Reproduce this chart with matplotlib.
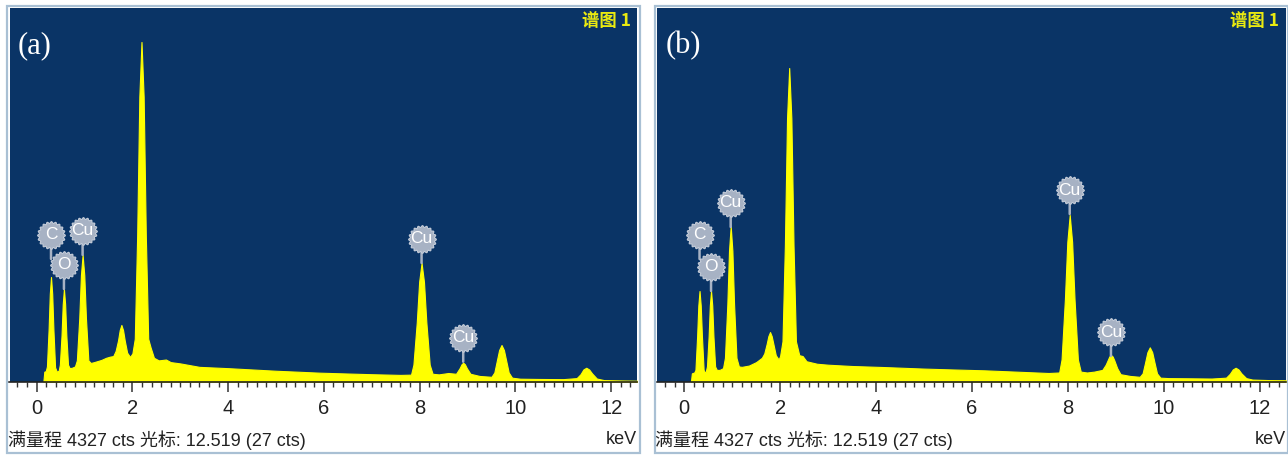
import numpy as np
import matplotlib
matplotlib.use('Agg')
import matplotlib.pyplot as plt
from matplotlib.path import Path
from matplotlib.patches import Rectangle
from matplotlib.transforms import offset_copy

# spectrum (a): energy in keV, counts
energy_a = [0.14, 0.16, 0.19, 0.215, 0.25, 0.275, 0.30, 0.325, 0.35, 0.385, 0.42,
            0.46, 0.485, 0.52, 0.545, 0.57, 0.595, 0.62, 0.655, 0.69, 0.74,
            0.80, 0.84, 0.89, 0.925, 0.96, 0.995, 1.03, 1.08, 1.13, 1.20, 1.35, 1.45, 1.53,
            1.60, 1.65, 1.70, 1.735, 1.77, 1.805, 1.84, 1.89, 1.95,
            2.00, 2.05, 2.10, 2.145, 2.19, 2.235, 2.28, 2.33, 2.38, 2.45, 2.55, 2.70, 2.80,
            3.00, 3.40, 4.00, 4.50, 5.00, 5.50, 5.90, 6.50, 7.00, 7.60,
            7.82, 7.87, 7.94, 7.99, 8.04, 8.09, 8.14, 8.21, 8.27, 8.40, 8.60,
            8.76, 8.835, 8.875, 8.91, 8.945, 8.985, 9.06, 9.25,
            9.50, 9.56, 9.61, 9.66, 9.71, 9.76, 9.81, 9.86, 9.93, 10.10, 10.50, 11.00,
            11.28, 11.36, 11.42, 11.48, 11.54, 11.60, 11.70, 11.85, 12.20, 12.55]
counts_a = [0, 120, 125, 180, 610, 1020, 1215, 1020, 610, 170, 120,
            130, 200, 540, 900, 1076, 900, 540, 200, 160, 165,
            180, 250, 735, 1235, 1470, 1235, 735, 250, 220, 230, 255, 280, 293,
            300, 360, 480, 600, 660, 600, 480, 340, 290,
            330, 500, 1700, 3300, 3934, 3300, 1700, 500, 400, 280, 250, 260, 230,
            215, 175, 160, 145, 130, 118, 108, 98, 90, 82,
            85, 200, 690, 1160, 1377, 1160, 690, 200, 95, 88, 104,
            95, 160, 205, 223, 205, 160, 95, 70,
            60, 110, 240, 370, 428, 370, 240, 110, 50, 38, 35, 33,
            45, 90, 145, 165, 145, 100, 40, 22, 18, 15]

# spectrum (b)
energy_b = [0.14, 0.16, 0.21, 0.235, 0.27, 0.295, 0.32, 0.345, 0.37, 0.405, 0.43,
            0.45, 0.475, 0.51, 0.535, 0.56, 0.585, 0.61, 0.645, 0.68, 0.74,
            0.81, 0.85, 0.90, 0.935, 0.97, 1.005, 1.04, 1.09, 1.14, 1.20, 1.35, 1.50,
            1.62, 1.67, 1.72, 1.755, 1.79, 1.825, 1.86, 1.91, 1.97,
            2.00, 2.05, 2.10, 2.145, 2.19, 2.235, 2.28, 2.33, 2.40, 2.47, 2.55, 2.77,
            3.00, 3.50, 4.16, 5.00, 5.60, 6.26, 7.00, 7.60,
            7.82, 7.87, 7.94, 7.99, 8.04, 8.09, 8.14, 8.21, 8.27, 8.40, 8.55,
            8.72, 8.79, 8.83, 8.865, 8.90, 8.935, 8.97, 9.03, 9.10, 9.30,
            9.50, 9.56, 9.61, 9.66, 9.71, 9.76, 9.81, 9.86, 9.93, 10.10, 10.50, 11.00,
            11.30, 11.38, 11.44, 11.50, 11.56, 11.62, 11.72, 11.85, 12.20, 12.55]
counts_b = [0, 100, 110, 140, 530, 885, 1053, 885, 530, 140, 110,
            120, 180, 530, 885, 1053, 885, 530, 180, 140, 140,
            160, 280, 900, 1520, 1805, 1520, 900, 280, 180, 175, 190, 230,
            280, 330, 440, 530, 578, 530, 440, 310, 260,
            300, 470, 1580, 3050, 3633, 3050, 1580, 470, 310, 300, 240, 211,
            200, 185, 173, 155, 145, 135, 118, 104,
            110, 260, 960, 1620, 1932, 1620, 960, 260, 120, 110, 120,
            140, 200, 250, 295, 312, 295, 250, 160, 90, 70,
            60, 100, 220, 345, 401, 345, 220, 100, 50, 45, 43, 40,
            50, 95, 145, 165, 145, 100, 45, 28, 22, 20]

# element markers: symbol, energy of the peak, counts at the peak top
label_text = ['C', 'O', 'Cu', 'Cu', 'Cu']
label_energy_a = [0.30, 0.57, 0.96, 8.04, 8.91]
label_peak_a = [1215, 1076, 1470, 1377, 223]
label_energy_b = [0.32, 0.56, 0.97, 8.04, 8.90]
label_peak_b = [1053, 1053, 1805, 1932, 312]

full_scale = 4327
tick_values = [0, 2, 4, 6, 8, 10, 12]
footer = '满量程 4327 cts 光标: 12.519 (27 cts)'

NAVY = '#0A3466'
YELLOW = '#FFFF00'
BADGE = '#A7B2C4'
BORDER = '#A9C0D4'
W, H = 1288, 455
narrow = ['Liberation Sans Narrow', 'Liberation Sans', 'Noto Sans CJK SC']

theta = np.linspace(0, 2 * np.pi, 161)
rad = 1 + 0.07 * np.cos(20 * theta)
gear = Path(np.column_stack([rad * np.cos(theta), rad * np.sin(theta)]), closed=True)

fig = plt.figure(figsize=(W / 100, H / 100), dpi=100)


def rect(x0, y0, x1, y1):
    return [x0 / W, 1 - y1 / H, (x1 - x0) / W, (y1 - y0) / H]


def panel(x0, x1, energy, counts, tag, lab_e, lab_c, lab_off):
    # outer frame of the panel
    fig.patches.append(Rectangle(((x0 - 2.5) / W, 1 - 453 / H), (x1 - x0 + 5) / W, 447 / H,
                                 transform=fig.transFigure, fill=False, ec=BORDER, lw=1.6))
    ax = fig.add_axes(rect(x0, 8, x1, 382))
    ax.set_facecolor(NAVY)
    ax.fill_between(energy, counts, color=YELLOW, lw=0.8, ec=YELLOW)
    ax.set_xlim(-0.567, 12.54)
    ax.set_ylim(0, full_scale)
    for s in ['top', 'left', 'right']:
        ax.spines[s].set_visible(False)
    ax.spines['bottom'].set_color('#222222')
    ax.spines['bottom'].set_linewidth(1.2)
    ax.set_yticks([])
    ax.set_xticks(tick_values)
    ax.set_xticks(np.arange(-0.4, 12.6, 0.2), minor=True)
    ax.tick_params(axis='x', which='major', length=7.5, width=1.1, color='#333333',
                   pad=5, labelsize=14.5, labelcolor='#222222')
    ax.tick_params(axis='x', which='minor', length=3.8, width=1.0, color='#333333')
    for t in ax.get_xticklabels():
        t.set_family(narrow)

    ax.text(0.013, 1 - 23 / 374, tag, transform=ax.transAxes, color='white', fontsize=22,
            family='Liberation Serif', ha='left', va='top')
    ax.text(0.99, 0.988, '谱图 1', transform=ax.transAxes, color='#EAEA10', fontsize=12.5,
            family=['Noto Sans CJK SC', 'DejaVu Sans'], ha='right', va='top', weight='bold')

    ax.text(-2 / (x1 - x0), -58 / 374, footer, transform=ax.transAxes, fontsize=13,
            family=narrow, color='#222222', ha='left', va='center', clip_on=False)
    ax.text(1.0, -58 / 374, 'keV', transform=ax.transAxes, fontsize=13,
            family=narrow, color='#222222', ha='right', va='center')

    for txt, e, c, off in zip(label_text, lab_e, lab_c, lab_off):
        tc = offset_copy(ax.transData, fig=fig, x=0, y=off, units='dots')
        t_top = offset_copy(ax.transData, fig=fig, x=0, y=off - 12, units='dots')
        t_bot = offset_copy(ax.transData, fig=fig, x=0, y=off - 24, units='dots')
        ax.annotate('', xy=(e, c), xycoords=t_bot, xytext=(e, c), textcoords=t_top,
                    arrowprops=dict(arrowstyle='-', color=BADGE, lw=1.8,
                                    shrinkA=0, shrinkB=0))
        ax.plot([e], [c], marker=gear, ms=20, mfc=BADGE, mec='#C3CBD8', mew=0.8,
                transform=tc, zorder=5)
        ax.text(e, c, txt, transform=tc, color='white', fontsize=12.5, family=narrow,
                ha='center', va='center', zorder=6)
    return ax


panel(9.5, 637, energy_a, counts_a, '(a)', label_energy_a, label_peak_a,
      [42, 24, 24, 24, 25])
panel(657, 1285.5, energy_b, counts_b, '(b)', label_energy_b, label_peak_b,
      [56, 24, 23, 25, 23])

fig.savefig('out.png', dpi=100, facecolor='white')
